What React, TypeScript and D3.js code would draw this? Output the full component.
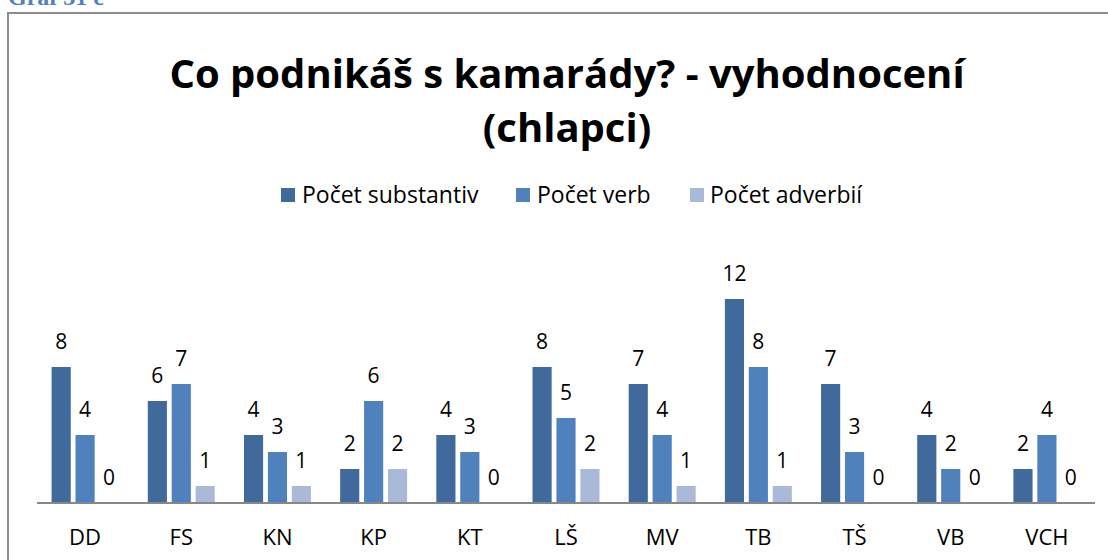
import React from "react";
import * as d3 from "d3";

const categories = ["DD", "FS", "KN", "KP", "KT", "LŠ", "MV", "TB", "TŠ", "VB", "VCH"];
const seriesNames = ["Počet substantiv", "Počet verb", "Počet adverbií"];
const substantiv = [8, 6, 4, 2, 4, 8, 7, 12, 7, 4, 2];
const verb = [4, 7, 3, 6, 3, 5, 4, 8, 3, 2, 4];
const adverbii = [0, 1, 1, 2, 0, 2, 1, 1, 0, 0, 0];
const seriesValues = [substantiv, verb, adverbii];
const colors = ["#40699C", "#4F81BD", "#A9BAD9"];

const W = 1108;
const H = 560;
const FONT = "'Open Sans', Lato, sans-serif";

export default function App() {
  const x0 = d3.scaleBand<string>().domain(categories).range([37, 1095]).padding(0);
  const step = x0.bandwidth();
  const x1 = d3
    .scaleBand<string>()
    .domain(seriesNames)
    .range([14.6, step - 14.6])
    .paddingInner(0.2)
    .paddingOuter(0);
  const y = d3.scaleLinear().domain([0, 14]).range([503, 265]);

  const legendItems = [
    { sx: 281, tx: 302 },
    { sx: 516, tx: 537 },
    { sx: 690, tx: 710 },
  ];

  return (
    <svg
      width={W}
      height={H}
      style={{ position: "absolute", left: 0, top: 0, background: "#fff" }}
    >
      <rect x={0} y={0} width={W} height={H} fill="#fff" />
      <text
        x={8}
        y={5}
        fontFamily="'Liberation Serif', 'Times New Roman', serif"
        fontWeight="bold"
        fontSize={24}
        fill="#4F81BD"
      >
        Graf 31 c
      </text>
      <rect x={8} y={13} width={W + 20} height={H + 20} fill="none" stroke="#8C8C8C" strokeWidth={2} />

      <text x={567} y={88} textAnchor="middle" fontFamily={FONT} fontWeight="bold" fontSize={40} fill="#000">
        Co podnikáš s kamarády? - vyhodnocení
      </text>
      <text x={567} y={142} textAnchor="middle" fontFamily={FONT} fontWeight="bold" fontSize={40} fill="#000">
        (chlapci)
      </text>

      {seriesNames.map((s, i) => (
        <g key={s}>
          <rect x={legendItems[i].sx} y={188} width={14} height={14} fill={colors[i]} />
          <text x={legendItems[i].tx} y={203} fontFamily={FONT} fontSize={23} fill="#000">
            {s}
          </text>
        </g>
      ))}

      {categories.map((c, ci) => (
        <g key={c} transform={`translate(${x0(c)},0)`}>
          {seriesNames.map((s, si) => {
            const v = seriesValues[si][ci];
            const bx = x1(s)!;
            const bw = x1.bandwidth();
            return (
              <g key={s}>
                {v > 0 && (
                  <rect x={bx} y={y(v)} width={bw} height={y(0) - y(v)} fill={colors[si]} />
                )}
                <text
                  x={bx + bw / 2}
                  y={y(v) - 18}
                  textAnchor="middle"
                  fontFamily={FONT}
                  fontSize={21}
                  fill="#000"
                >
                  {v}
                </text>
              </g>
            );
          })}
          <text
            x={step / 2}
            y={545}
            textAnchor="middle"
            fontFamily={FONT}
            fontSize={22}
            fill="#000"
          >
            {c}
          </text>
        </g>
      ))}

      <line x1={37} x2={1095} y1={503} y2={503} stroke="#878787" strokeWidth={2} />
    </svg>
  );
}
